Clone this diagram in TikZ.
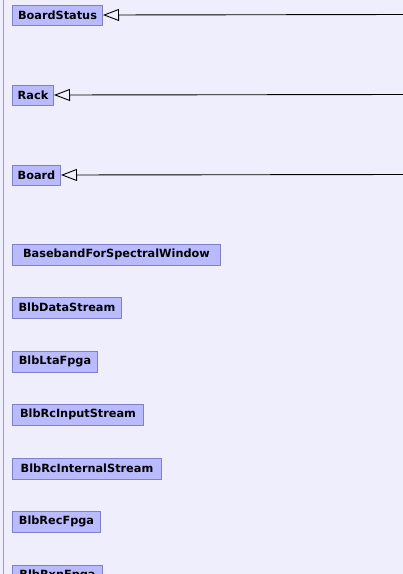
\documentclass[tikz,border=0pt]{standalone}
\usepackage{fontspec}
\setmainfont{DejaVu Sans}
\usetikzlibrary{arrows.meta}
\definecolor{bgc}{RGB}{238,238,252}
\definecolor{boxfill}{RGB}{186,186,255}
\definecolor{boxline}{RGB}{128,128,200}
\definecolor{leftline}{RGB}{160,160,176}
\tikzset{
  cls/.style={draw=boxline, fill=boxfill, line width=1pt, anchor=north west, inner sep=0pt,
    minimum height=21pt, font=\fontsize{11.3}{13}\selectfont\bfseries},
  gen/.style={draw=black, line width=0.9pt, -{Triangle[open, length=16pt, width=12pt, line width=0.9pt]}}
}
\begin{document}
\begin{tikzpicture}[x=1pt,y=-1pt]
\useasboundingbox (0,0) rectangle (403,574);
\fill[bgc] (0,0) rectangle (403,574);
\draw[leftline, line width=1pt] (3,0) -- (3,574);
\node[cls, minimum width=90pt, minimum height=20pt] (bs) at (12,4.5) {BoardStatus};
\node[cls, minimum width=41pt, minimum height=20pt] (rack) at (12,84.5) {Rack};
\node[cls, minimum width=48pt, minimum height=20pt] (board) at (12,164.5) {Board};
\node[cls, minimum width=208pt] (bb) at (12,243.5) {BasebandForSpectralWindow};
\node[cls, minimum width=109pt] (ds) at (12,296.5) {BlbDataStream};
\node[cls, minimum width=85pt] (lta) at (12,350.5) {BlbLtaFpga};
\node[cls, minimum width=131pt] (rci) at (12,403.5) {BlbRcInputStream};
\node[cls, minimum width=149pt] (rcn) at (12,457.5) {BlbRcInternalStream};
\node[cls, minimum width=88pt] (rec) at (12,510.5) {BlbRecFpga};
\node[cls, minimum width=90pt] (rxn) at (12,564.5) {BlbRxnFpga};
\coordinate (e1) at (404,14.5);
\coordinate (e2) at (404,94.5);
\coordinate (e3) at (404,174.5);
\draw[gen] (e1) -- (bs.east);
\draw[gen] (e2) -- (rack.east);
\draw[gen] (e3) -- (board.east);
\end{tikzpicture}
\end{document}
